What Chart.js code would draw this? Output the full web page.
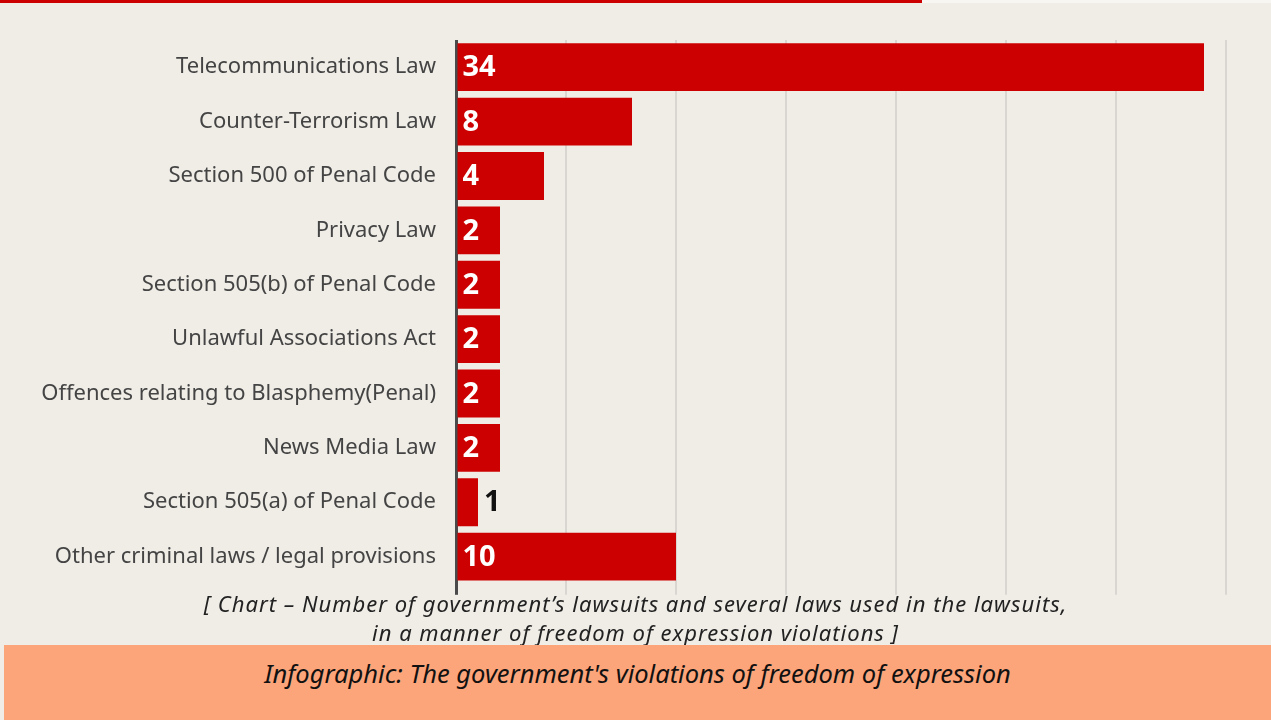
<html>
<head>
    <title>Government lawsuits - freedom of expression</title>
    <script src="https://cdn.jsdelivr.net/npm/chart.js"></script>
    <style>
        body { margin: 0; width: 1271px; height: 720px; background: #f0ede7; position: relative; overflow: hidden; font-family: "Noto Sans", sans-serif; }
        #topline { position: absolute; left: 0; top: 0; width: 1271px; height: 3px; background: #f7f6f3; }
        #topline div { width: 922px; height: 3px; background: #cc0000; }
        #wrap { position: absolute; left: 0; top: 0; width: 1271px; height: 617px; }
        #caption { position: absolute; left: 0; top: 589px; width: 1271px; text-align: center; font-style: italic; font-size: 22px; letter-spacing: 1px; line-height: 29px; color: #222; font-family: "Noto Sans", sans-serif; }
        #band { position: absolute; left: 4px; top: 645px; width: 1267px; height: 75px; background: #fda57a; }
        #band p { margin: 0; padding-top: 11px; text-align: center; font-style: italic; font-size: 25.5px; color: #111; font-family: "Noto Sans", sans-serif; }
    </style>
</head>
<body>
    <div id="topline"><div></div></div>
    <div id="wrap"><canvas id="barChart"></canvas></div>
    <div id="caption">[ Chart &ndash; Number of government&#8217;s lawsuits and several laws used in the lawsuits,<br>in a manner of freedom of expression violations ]</div>
    <div id="band"><p>Infographic: The government's violations of freedom of expression</p></div>
    <script>
        const laws = [
            'Telecommunications Law',
            'Counter-Terrorism Law',
            'Section 500 of Penal Code',
            'Privacy Law',
            'Section 505(b) of Penal Code',
            'Unlawful Associations Act',
            'Offences relating to Blasphemy(Penal)',
            'News Media Law',
            'Section 505(a) of Penal Code',
            'Other criminal laws / legal provisions'
        ];
        const lawsuits = [34, 8, 4, 2, 2, 2, 2, 2, 1, 10];
        const xTicks = [0, 5, 10, 15, 20, 25, 30, 35];

        // numbers on the bars: white inside, dark outside when the bar is too short
        const valueLabels = {
            id: 'valueLabels',
            afterDatasetsDraw(chart) {
                const ctx = chart.ctx;
                const meta = chart.getDatasetMeta(0);
                ctx.save();
                ctx.font = 'bold 29px "Noto Sans"';
                ctx.textBaseline = 'middle';
                meta.data.forEach((bar, i) => {
                    const txt = String(lawsuits[i]);
                    const w = ctx.measureText(txt).width;
                    if (bar.x - bar.base > w + 8) {
                        ctx.fillStyle = '#ffffff';
                        ctx.fillText(txt, bar.base + 5, bar.y + 1);
                    } else {
                        ctx.fillStyle = '#111111';
                        ctx.fillText(txt, bar.x + 6, bar.y + 1);
                    }
                });
                ctx.restore();
            }
        };

        new Chart(document.getElementById('barChart'), {
            type: 'bar',
            data: {
                labels: laws,
                datasets: [{
                    data: lawsuits,
                    backgroundColor: '#cc0000',
                    barPercentage: 0.88,
                    categoryPercentage: 1
                }]
            },
            options: {
                indexAxis: 'y',
                responsive: true,
                maintainAspectRatio: false,
                animation: false,
                layout: { padding: { top: 40, right: 45, bottom: 7, left: 0 } },
                plugins: { legend: { display: false }, tooltip: { enabled: false } },
                scales: {
                    x: {
                        min: 0,
                        max: 35,
                        afterBuildTicks: scale => { scale.ticks = xTicks.map(v => ({ value: v })); },
                        ticks: { display: false },
                        border: { display: false },
                        grid: {
                            color: c => c.tick && c.tick.value === 0 ? '#4a4a4a' : '#d9d6d1',
                            lineWidth: c => c.tick && c.tick.value === 0 ? 3 : 2,
                            drawTicks: true,
                            tickLength: 11
                        }
                    },
                    y: {
                        afterFit: scale => { scale.width = 456; },
                        border: { display: false },
                        grid: { display: false, drawTicks: false },
                        ticks: {
                            color: '#444444',
                            padding: 20,
                            font: { family: '"Noto Sans"', size: 22 }
                        }
                    }
                }
            },
            plugins: [valueLabels]
        });
    </script>
</body>
</html>
